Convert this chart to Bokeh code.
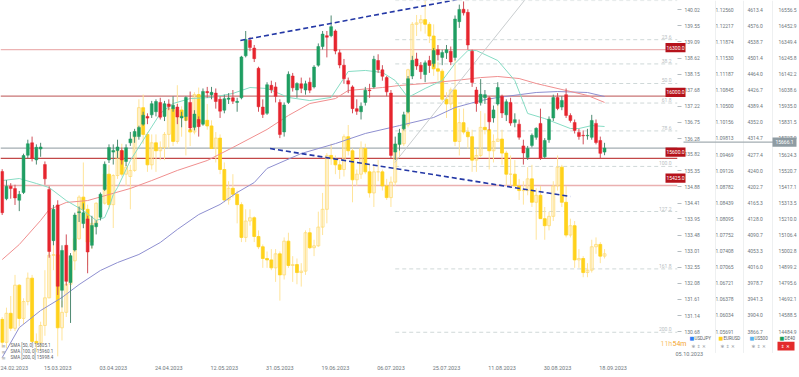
from bokeh.plotting import figure
from bokeh.layouts import row
from bokeh.models import Range1d, LinearAxis, FixedTicker, PrintfTickFormatter, Label
from bokeh.embed import file_html
from bokeh.resources import INLINE
from bokeh.core.properties import value

FONT = "Roboto"

# ---------------- data ----------------
X_TICKS = [0, 13, 26, 39, 52, 65, 78, 91, 104, 117, 130, 143]
X_LABELS = ["24.02.2023", "15.03.2023", "03.04.2023", "24.04.2023", "12.05.2023", "31.05.2023",
            "19.06.2023", "06.07.2023", "25.07.2023", "11.08.2023", "30.08.2023", "18.09.2023"]
X_LAST_LABEL = "05.10.2023"

JPY_TICKS = [140.02, 139.55, 139.09, 138.62, 138.15, 137.68, 137.22, 136.75, 136.28, 135.82, 135.35,
             134.88, 134.41, 133.95, 133.48, 133.01, 132.55, 132.08, 131.61, 131.14, 130.68]
EUR_TICKS = [1.12560, 1.12217, 1.11874, 1.11530, 1.11187, 1.10845, 1.10500, 1.10156, 1.09813, 1.09469, 1.09126,
             1.08782, 1.08439, 1.08095, 1.07752, 1.07408, 1.07065, 1.06721, 1.06378, 1.06034, 1.05691]
SPX_TICKS = [4613.4, 4576.0, 4538.7, 4501.4, 4464.0, 4426.7, 4389.4, 4352.0, 4314.7, 4277.4, 4240.0,
             4202.7, 4165.3, 4128.0, 4090.7, 4053.3, 4016.0, 3978.7, 3941.3, 3904.0, 3866.7]
DAX_TICKS = [16556.5, 16452.9, 16349.4, 16245.8, 16142.2, 16038.6, 15935.0, 15831.5, 15727.9, 15624.3, 15520.7,
             15417.1, 15313.5, 15210.0, 15106.4, 15002.8, 14899.2, 14795.6, 14692.1, 14588.5, 14484.9]

DAX_O = [15515,15340,15421,15405,15330,15380,15620,15700,15590,15660,15560,15400,15070,15300,14750,15040,14800,15010,15250,15180,
         15210,15040,15160,15220,15400,15590,15640,15650,15650,15580,15700,15740,15740,15820,15870,15880,15900,15960,15870,15950,
         15920,15930,15860,15870,15960,15800,15850,15820,16030,16010,16020,15980,15910,15980,15990,15960,15990,16260,16360,16310,
         16180,15930,15890,16070,16060,15960,15770,15960,16130,16040,16080,16040,16090,16060,16200,16320,16390,16390,16420,16280,
         16200,16100,16060,15920,15900,15960,16040,16060,16230,16170,16120,16020,15640,15690,15790,15900,16130,16240,16200,16140,
         16230,16210,16300,16250,16280,16290,16250,16480,16560,16540,16290,16040,15960,15990,15990,15860,15950,16000,15880,15960,
         15830,15820,15680,15606,15683,15735,15825,15610,15720,15860,15992,15930,16010,15876,15831,15767,15748,15745,15735,15825,
         15715,15640]
DAX_H = [15530,15460,15440,15430,15390,15630,15720,15740,15690,15700,15580,15420,15300,15330,15040,15110,14990,15250,15290,15310,
         15230,15230,15200,15380,15580,15690,15690,15720,15670,15690,15770,15790,15810,15900,15890,15970,15980,15990,15970,15980,
         16000,15950,15900,16000,16030,15910,15870,16050,16060,16060,16050,16000,16010,16020,16040,15990,16260,16420,16380,16330,
         16190,15980,16090,16100,16090,15980,15960,16160,16150,16090,16120,16100,16120,16200,16340,16420,16420,16520,16430,16300,
         16240,16120,16070,15980,15960,16060,16080,16260,16270,16200,16130,16040,15740,15790,15900,16130,16260,16280,16220,16230,
         16260,16310,16330,16300,16330,16320,16520,16590,16610,16560,16300,16060,16110,16040,16000,15940,16090,16010,15980,15990,
         15890,15850,15720,15680,15760,15800,15920,15730,15870,16010,16020,16000,16050,15890,15850,15790,15780,15790,15880,15850,
         15740,15700]
DAX_L = [15235,15330,15340,15300,15260,15370,15600,15580,15560,15610,15430,14960,15040,14720,14640,14780,14540,15000,15190,15150,
         14860,15020,15110,15200,15390,15570,15560,15600,15560,15550,15680,15700,15720,15810,15820,15860,15870,15850,15840,15910,
         15900,15820,15800,15840,15780,15780,15740,15810,15990,15980,15920,15860,15890,15950,15950,15900,15980,16250,16290,16220,
         15900,15860,15880,16020,15960,15730,15740,15950,16030,15990,16020,16010,16020,16050,16190,16300,16250,16380,16270,16180,
         16080,16020,15890,15880,15850,15940,15990,16050,16150,16100,16000,15600,15590,15650,15780,15890,16110,16170,16110,16090,
         16150,16190,16230,16200,16240,16200,16230,16440,16520,16300,16060,15900,15940,15950,15780,15830,15940,15860,15840,15810,
         15800,15720,15560,15590,15670,15720,15590,15600,15700,15840,15910,15910,15860,15830,15760,15720,15690,15720,15720,15690,
         15600,15620]
DAX_C = [15250,15421,15405,15345,15368,15618,15694,15599,15671,15673,15468,15000,15272,14776,15007,14808,14973,15235,15256,15250,
         14997,15168,15182,15369,15562,15669,15651,15673,15590,15668,15725,15773,15799,15878,15859,15952,15966,15865,15952,15933,
         15942,15866,15871,15992,15796,15885,15804,16031,16023,16025,15966,15904,15984,15988,15968,15967,16253,16365,16313,16242,
         15932,15883,16074,16042,15999,15754,15943,16141,16054,16082,16051,16080,16039,16188,16320,16400,16380,16448,16291,16201,
         16113,16078,15920,15903,15936,16039,16036,16238,16171,16128,16028,15619,15693,15763,15880,16113,16231,16195,16158,16215,
         16198,16294,16267,16281,16300,16221,16497,16559,16537,16330,16089,15953,16012,16010,15835,15912,16056,15892,15964,15827,
         15849,15736,15635,15664,15748,15793,15600,15715,15852,15991,15921,15973,15876,15844,15780,15741,15745,15748,15844,15702,
         15632,15666]

EUR_O = [1.0595,1.0546,1.0608,1.0576,1.0668,1.0597,1.0633,1.0683,1.0548,1.0545,1.0582,1.0641,1.0732,1.0733,1.0577,1.0610,1.0670,1.0720,1.0767,1.0856,
         1.0830,1.0760,1.0800,1.0843,1.0843,1.0905,1.0840,1.0902,1.0955,1.0905,1.0900,1.0913,1.0990,1.1047,1.0990,1.0925,1.0972,1.0955,1.0962,1.0990,
         1.1045,1.0975,1.1042,1.1028,1.1000,1.0995,1.1075,1.1015,1.1020,1.1008,1.0960,1.0982,1.0915,1.0850,1.0875,1.0862,1.0840,1.0770,1.0805,1.0812,
         1.0772,1.0750,1.0725,1.0722,1.0705,1.0735,1.0690,1.0762,1.0710,1.0712,1.0695,1.0698,1.0780,1.0748,1.0752,1.0792,1.0830,1.0945,1.0938,1.0925,
         1.0915,1.0985,1.0955,1.0893,1.0905,1.0960,1.0910,1.0865,1.0910,1.0910,1.0880,1.0855,1.0888,1.0968,1.0970,1.1010,1.1128,1.1225,1.1228,1.1235,
         1.1225,1.1200,1.1130,1.1125,1.1065,1.1055,1.1085,1.0975,1.1015,1.0995,1.0985,1.0935,1.0945,1.1005,1.1000,1.0955,1.0975,1.0980,1.0950,1.0905,
         1.0905,1.0880,1.0870,1.0870,1.0895,1.0845,1.0860,1.0810,1.0795,1.0815,1.0880,1.0920,1.0845,1.0775,1.0795,1.0722,1.0725,1.0695,1.0700,1.0750,
         1.0755,1.0730]
EUR_H = [1.0600,1.0620,1.0645,1.0690,1.0670,1.0640,1.0695,1.0690,1.0565,1.0590,1.0700,1.0745,1.0760,1.0760,1.0635,1.0680,1.0730,1.0790,1.0860,1.0930,
         1.0840,1.0810,1.0845,1.0855,1.0925,1.0925,1.0905,1.0970,1.0970,1.0925,1.0925,1.1000,1.1065,1.1075,1.0995,1.0990,1.0990,1.0975,1.0995,1.1050,
         1.1065,1.1095,1.1050,1.1045,1.1050,1.1080,1.1090,1.1055,1.1055,1.1020,1.0995,1.0990,1.0930,1.0890,1.0905,1.0870,1.0845,1.0830,1.0830,1.0815,
         1.0785,1.0755,1.0740,1.0745,1.0745,1.0740,1.0770,1.0780,1.0730,1.0725,1.0715,1.0785,1.0790,1.0765,1.0825,1.0865,1.0950,1.0970,1.0945,1.0935,
         1.0990,1.1010,1.0960,1.0915,1.0975,1.0970,1.0925,1.0925,1.0935,1.0915,1.0895,1.0900,1.0975,1.0990,1.1020,1.1130,1.1230,1.1245,1.1245,1.1276,
         1.1230,1.1225,1.1145,1.1130,1.1080,1.1090,1.1150,1.1045,1.1045,1.1005,1.1000,1.0960,1.1040,1.1035,1.1000,1.0990,1.1065,1.1000,1.0955,1.0945,
         1.0935,1.0895,1.0890,1.0920,1.0925,1.0875,1.0880,1.0835,1.0825,1.0890,1.0945,1.0925,1.0880,1.0810,1.0805,1.0745,1.0730,1.0715,1.0765,1.0770,
         1.0760,1.0745]
EUR_L = [1.0535,1.0533,1.0570,1.0570,1.0580,1.0585,1.0625,1.0545,1.0525,1.0530,1.0560,1.0640,1.0700,1.0516,1.0550,1.0600,1.0660,1.0700,1.0765,1.0820,
         1.0710,1.0745,1.0790,1.0810,1.0840,1.0830,1.0790,1.0895,1.0900,1.0880,1.0830,1.0910,1.0985,1.0970,1.0910,1.0915,1.0910,1.0935,1.0935,1.0960,
         1.0965,1.0970,1.0985,1.0945,1.0965,1.0990,1.1010,1.1010,1.1000,1.0960,1.0930,1.0905,1.0845,1.0840,1.0855,1.0800,1.0760,1.0760,1.0795,1.0760,
         1.0745,1.0705,1.0705,1.0700,1.0675,1.0635,1.0680,1.0705,1.0675,1.0670,1.0665,1.0690,1.0745,1.0730,1.0750,1.0775,1.0800,1.0925,1.0905,1.0895,
         1.0900,1.0945,1.0845,1.0880,1.0895,1.0905,1.0855,1.0835,1.0890,1.0870,1.0850,1.0835,1.0880,1.0940,1.0965,1.1005,1.1125,1.1200,1.1210,1.1205,
         1.1185,1.1115,1.1105,1.1060,1.1025,1.1045,1.0965,1.0945,1.0990,1.0960,1.0910,1.0910,1.0940,1.0990,1.0915,1.0930,1.0975,1.0925,1.0880,1.0875,
         1.0880,1.0850,1.0840,1.0860,1.0835,1.0765,1.0810,1.0765,1.0785,1.0805,1.0870,1.0835,1.0770,1.0770,1.0705,1.0705,1.0685,1.0685,1.0695,1.0735,
         1.0715,1.0725]
EUR_C = [1.0546,1.0608,1.0576,1.0668,1.0597,1.0633,1.0683,1.0548,1.0545,1.0582,1.0641,1.0732,1.0733,1.0577,1.0610,1.0670,1.0720,1.0767,1.0856,1.0830,
         1.0760,1.0800,1.0843,1.0843,1.0905,1.0840,1.0902,1.0955,1.0905,1.0920,1.0913,1.0990,1.1047,1.0990,1.0925,1.0972,1.0955,1.0962,1.0990,1.1045,
         1.0975,1.1042,1.1028,1.1020,1.0995,1.1075,1.1015,1.1020,1.1008,1.0960,1.0982,1.0915,1.0850,1.0875,1.0862,1.0840,1.0770,1.0805,1.0812,1.0772,
         1.0750,1.0725,1.0722,1.0705,1.0735,1.0690,1.0762,1.0710,1.0712,1.0695,1.0698,1.0780,1.0748,1.0752,1.0792,1.0830,1.0945,1.0938,1.0925,1.0915,
         1.0985,1.0955,1.0893,1.0905,1.0960,1.0910,1.0865,1.0910,1.0910,1.0880,1.0855,1.0888,1.0968,1.0970,1.1010,1.1128,1.1225,1.1228,1.1235,1.1225,
         1.1200,1.1130,1.1125,1.1065,1.1055,1.1085,1.0975,1.1015,1.0995,1.0985,1.0935,1.0945,1.1005,1.1000,1.0955,1.0975,1.0980,1.0950,1.0905,1.0905,
         1.0880,1.0870,1.0870,1.0895,1.0845,1.0860,1.0810,1.0795,1.0815,1.0880,1.0920,1.0845,1.0775,1.0795,1.0722,1.0725,1.0695,1.0700,1.0750,1.0755,
         1.0730,1.0735]

SMA50_X = [0,4,8,11,15,19,22,24,25,26,27,30,34,37,40,44,49,54,58,62,67,72,77,81,85,89,92,95,99,103,106,109,111,116,120,123,127,133,135,138,141]
SMA50_Y = [15457,15470,15438,15412,15328,15264,15200,15219,15283,15367,15412,15586,15760,15889,15953,15985,15992,16018,16056,16050,
           15992,15972,15992,16159,16166,16153,16101,15992,16050,16101,16211,16294,16294,16230,16101,15889,15856,15792,15792,15811,15805]
SMA100_X = [0,4,9,11,15,20,25,30,35,41,48,54,62,67,72,78,81,89,93,99,106,112,116,121,125,127,132,137,141]
SMA100_Y = [14948,15045,15200,15270,15316,15328,15367,15406,15457,15522,15586,15670,15786,15876,15953,15985,16037,16056,16069,16082,
            16101,16120,16127,16114,16082,16069,16037,16005,15960]
SMA200_X = [0,4,9,14,18,23,27,32,37,41,46,51,55,59,62,70,78,85,93,101,106,112,116,125,130,137,141]
SMA200_Y = [14317,14510,14620,14704,14787,14878,14929,14981,15058,15142,15238,15303,15380,15444,15535,15631,15695,15760,15811,15863,
            15927,15972,15992,16024,16030,16024,15998]
SMA_LEGEND = ["SMA [50, 0] 15805.1", "SMA [100, 0] 15960.1", "SMA [200, 0] 15998.4"]

TREND_UP_X, TREND_UP_Y = [55.75, 108.0], [16359, 16630]
TREND_DN_X, TREND_DN_Y = [62.7, 133.0], [15663, 15354]
DIAG_X, DIAG_Y = [91.9, 124.5], [15573, 16694]

LEVELS = [16300.0, 16000.0, 15600.0, 15425.0]
LEVEL_COLORS = ["#ecb3b3", "#c97474", "#c24848", "#eab0b0"]
LAST_PRICE = 15666.1

FIB_LEVELS = [0.0, 23.6, 38.2, 50.0, 61.8, 78.6, 100.0, 127.2, 161.8, 200.0]
FIB_HI, FIB_LO, FIB_START = 16616.0, 15548.0, 92

LEGEND_NAMES = ["USDJPY", "EURUSD", "US500", "DE40"]
LEGEND_COLORS = ["#2f7ef5", "#ffcf1a", "#5ab4f0", "#19a05a"]

# ---------------- layout constants ----------------
W, H = 799, 377
FRAME_W, FRAME_H = 683, 362
ROW0_Y, ROWN_Y = 9.3, 331.0
BAR_PX, BAR0_PX = 4.31, 1.7
UPP = (DAX_TICKS[0] - DAX_TICKS[-1]) / (ROWN_Y - ROW0_Y)
TOP = DAX_TICKS[0] + ROW0_Y * UPP
OV_X0 = 655     # left edge of the transparent overlay strip


def vrange(ticks):
    upp = (ticks[0] - ticks[-1]) / (ROWN_Y - ROW0_Y)
    top = ticks[0] + ROW0_Y * upp
    return Range1d(start=top - FRAME_H * upp, end=top)


x0 = -BAR0_PX / BAR_PX
xr_end = x0 + FRAME_W / BAR_PX


def px2x(px):
    return x0 + px / BAR_PX


def val2py(v):
    return (TOP - v) / UPP


p = figure(width=W, height=H, output_backend="svg", toolbar_location=None,
           x_range=Range1d(x0, xr_end), y_range=vrange(DAX_TICKS),
           y_axis_location=None,
           min_border_left=0, min_border_top=0, min_border_right=W - FRAME_W,
           min_border_bottom=H - FRAME_H)
p.extra_y_ranges = {"jpy": vrange(JPY_TICKS), "eur": vrange(EUR_TICKS), "spx": vrange(SPX_TICKS)}
p.outline_line_color = None
p.grid.visible = False
p.background_fill_color = "white"
p.border_fill_color = "white"

# x axis
xa = p.xaxis[0]
xa.ticker = FixedTicker(ticks=X_TICKS, minor_ticks=[])
xa.major_label_overrides = {t: s for t, s in zip(X_TICKS, X_LABELS)}
xa.major_tick_out = 0
xa.major_tick_in = 0
xa.minor_tick_out = 0
xa.minor_tick_in = 0
xa.axis_line_color = None
xa.major_label_text_align = "left"
xa.major_label_standoff = 3
xa.major_label_text_font = FONT
xa.major_label_text_font_size = "5.5px"
xa.major_label_text_color = "#6d767c"

# right axes
specs = [("jpy", JPY_TICKS, "%.2f", 4, 3),
         ("eur", EUR_TICKS, "%.5f", 0, 13),
         ("spx", SPX_TICKS, "%.1f", 0, 11),
         ("default", DAX_TICKS, "%.1f", 0, 13)]
for i, (name, ticks, fmt, tout, stand) in enumerate(specs):
    ax = LinearAxis(y_range_name=name, ticker=FixedTicker(ticks=ticks, minor_ticks=[]),
                    formatter=PrintfTickFormatter(format=fmt))
    ax.major_tick_out = tout
    ax.major_tick_in = 0
    ax.minor_tick_out = 0
    ax.minor_tick_in = 0
    ax.major_tick_line_color = "#b5bcc0"
    ax.axis_line_color = None
    ax.major_label_standoff = stand
    ax.major_label_text_font = FONT
    ax.major_label_text_font_size = "5px"
    ax.major_label_text_color = "#6d767c"
    p.add_layout(ax, "right")

# fibonacci dashed levels
fib_vals = [FIB_HI - (FIB_HI - FIB_LO) * lv / 100.0 for lv in FIB_LEVELS]
p.segment(x0=[FIB_START] * len(fib_vals), x1=[xr_end] * len(fib_vals), y0=fib_vals, y1=fib_vals,
          line_color="#cfd8d8", line_width=1, line_dash="4 3")
p.text(x=[px2x(677)] * (len(fib_vals) - 1), y=fib_vals[1:], text=["%.1f" % lv for lv in FIB_LEVELS[1:]],
       text_align="right", text_baseline="bottom", y_offset=-1,
       text_font=value(FONT), text_font_size="5px", text_color="#b9c0c3")

# horizontal levels
for lv, col in zip(LEVELS, LEVEL_COLORS):
    p.segment(x0=[x0], x1=[xr_end], y0=[lv], y1=[lv], line_color=col, line_width=1.3)
p.segment(x0=[x0], x1=[xr_end], y0=[LAST_PRICE], y1=[LAST_PRICE], line_color="#a3adb2", line_width=1.3)

# EURUSD candles (yellow)
xs = list(range(len(EUR_C)))
eup = [c >= o for o, c in zip(EUR_O, EUR_C)]
p.segment(x0=xs, x1=xs, y0=EUR_H, y1=EUR_L, line_color="#ffe49a", line_width=1, y_range_name="eur")
p.vbar(x=xs, width=0.68,
       top=[max(o, c) for o, c in zip(EUR_O, EUR_C)], bottom=[min(o, c) for o, c in zip(EUR_O, EUR_C)],
       fill_color=["#ffffff" if u else "#ffd21c" for u in eup], fill_alpha=[0.0 if u else 1.0 for u in eup],
       line_color=["#ffdc74" if u else "#ffd21c" for u in eup], line_width=0.8, y_range_name="eur")

# SMA lines
p.line(SMA200_X, SMA200_Y, line_color="#8e8fd0", line_width=1)
p.line(SMA100_X, SMA100_Y, line_color="#f08f8f", line_width=1)
p.line(SMA50_X, SMA50_Y, line_color="#86dcc4", line_width=1)
p.line(DIAG_X, DIAG_Y, line_color="#c9cdcf", line_width=1)

# DAX candles
dup = [c >= o for o, c in zip(DAX_O, DAX_C)]
dcol = ["#1f9e62" if u else "#e6252e" for u in dup]
wcol = ["#4f8a72" if u else "#d0505a" for u in dup]
p.segment(x0=xs, x1=xs, y0=DAX_H, y1=DAX_L, line_color=wcol, line_width=1)
p.vbar(x=xs, width=0.68,
       top=[max(o, c) for o, c in zip(DAX_O, DAX_C)], bottom=[min(o, c) for o, c in zip(DAX_O, DAX_C)],
       fill_color=dcol, line_color=dcol, line_width=0.5)

# trend lines
p.line(TREND_UP_X, TREND_UP_Y, line_color="#2438a6", line_width=1.6, line_dash="5 3")
p.line(TREND_DN_X, TREND_DN_Y, line_color="#2438a6", line_width=1.6, line_dash="5 3")

# SMA legend bottom-left (inside the frame)
for txt, yy in zip(SMA_LEGEND, [17, 11, 5]):
    p.add_layout(Label(x=1, y=yy, x_units="screen", y_units="screen", text="\u2261", text_font="DejaVu Sans",
                       text_font_size="5px", text_color="#9aa0a4", text_baseline="middle"))
    p.add_layout(Label(x=10, y=yy, x_units="screen", y_units="screen", text=txt, text_font=FONT,
                       text_font_size="4.5px", text_color="#5a6166", text_baseline="middle"))

# ---------- transparent overlay strip (pixel coordinates) for tags crossing the frame edge ----------
ov_w = W - OV_X0
q = figure(width=ov_w, height=H, output_backend="svg", toolbar_location=None,
           x_range=Range1d(OV_X0, W), y_range=Range1d(H, 0),
           x_axis_location=None, y_axis_location=None,
           min_border_left=0, min_border_right=0, min_border_top=0, min_border_bottom=0,
           margin=(0, 0, 0, -ov_w))
q.outline_line_color = None
q.grid.visible = False
q.background_fill_color = None
q.border_fill_color = None

q.segment(x0=[715, 743, 772], x1=[715, 743, 772], y0=[0, 0, 0], y1=[367, 367, 367],
          line_color="#eef0f1", line_width=1)
lp = val2py(LAST_PRICE)
q.segment(x0=[683], x1=[773], y0=[lp], y1=[lp], line_color="#a3adb2", line_width=1.3)
lys = [val2py(lv) for lv in LEVELS]
q.quad(left=[665] * len(lys), right=[685] * len(lys), top=[y - 4.8 for y in lys], bottom=[y + 4.8 for y in lys],
       fill_color="#b5121b", line_color=None)
q.text(x=[675] * len(lys), y=lys, text=["%.1f" % lv for lv in LEVELS], text_align="center",
       text_baseline="middle", text_font=value(FONT), text_font_size="5px", text_color="#ffffff")
q.quad(left=[772], right=[796], top=[lp - 4.8], bottom=[lp + 4.8], fill_color="#8f9ca3", line_color=None)
q.text(x=[784], y=[lp], text=["%.1f" % LAST_PRICE], text_align="center", text_baseline="middle",
       text_font=value(FONT), text_font_size="5px", text_color="#ffffff")
q.text(x=[660, 672], y=[358, 358], text=["11h", "54m"], text_baseline="middle",
       text_font=value(FONT), text_font_size="7px", text_color=["#f8c46a", "#f4a52a"])
q.text(x=[675], y=[368], text=[X_LAST_LABEL], text_baseline="middle",
       text_font=value(FONT), text_font_size="5.5px", text_color="#6d767c")
bxs = [689, 718, 749, 779]
q.text(x=bxs, y=[352] * 4, text=["\u25a0"] * 4, text_baseline="middle",
       text_font=value("DejaVu Sans"), text_font_size="5px", text_color=LEGEND_COLORS)
q.text(x=[b + 5 for b in bxs], y=[352] * 4, text=LEGEND_NAMES, text_baseline="middle",
       text_font=value(FONT), text_font_size="4.5px", text_color="#5a6166")
q.text(x=[b + 2 for b in bxs[:3]], y=[360] * 3, text=["\u273b  \u21d5  \u2715"] * 3, text_baseline="middle",
       text_font=value("DejaVu Sans"), text_font_size="4.5px", text_color="#9aa0a4")
q.quad(left=[777], right=[794], top=[355.5], bottom=[364.5], fill_color="#e32b2b", line_color=None)
q.text(x=[785.5], y=[360], text=["\u21d5  \u2715"], text_align="center", text_baseline="middle",
       text_font=value("DejaVu Sans"), text_font_size="4.5px", text_color="#ffffff")

open("out.html", "w").write(file_html(row(p, q), INLINE))
